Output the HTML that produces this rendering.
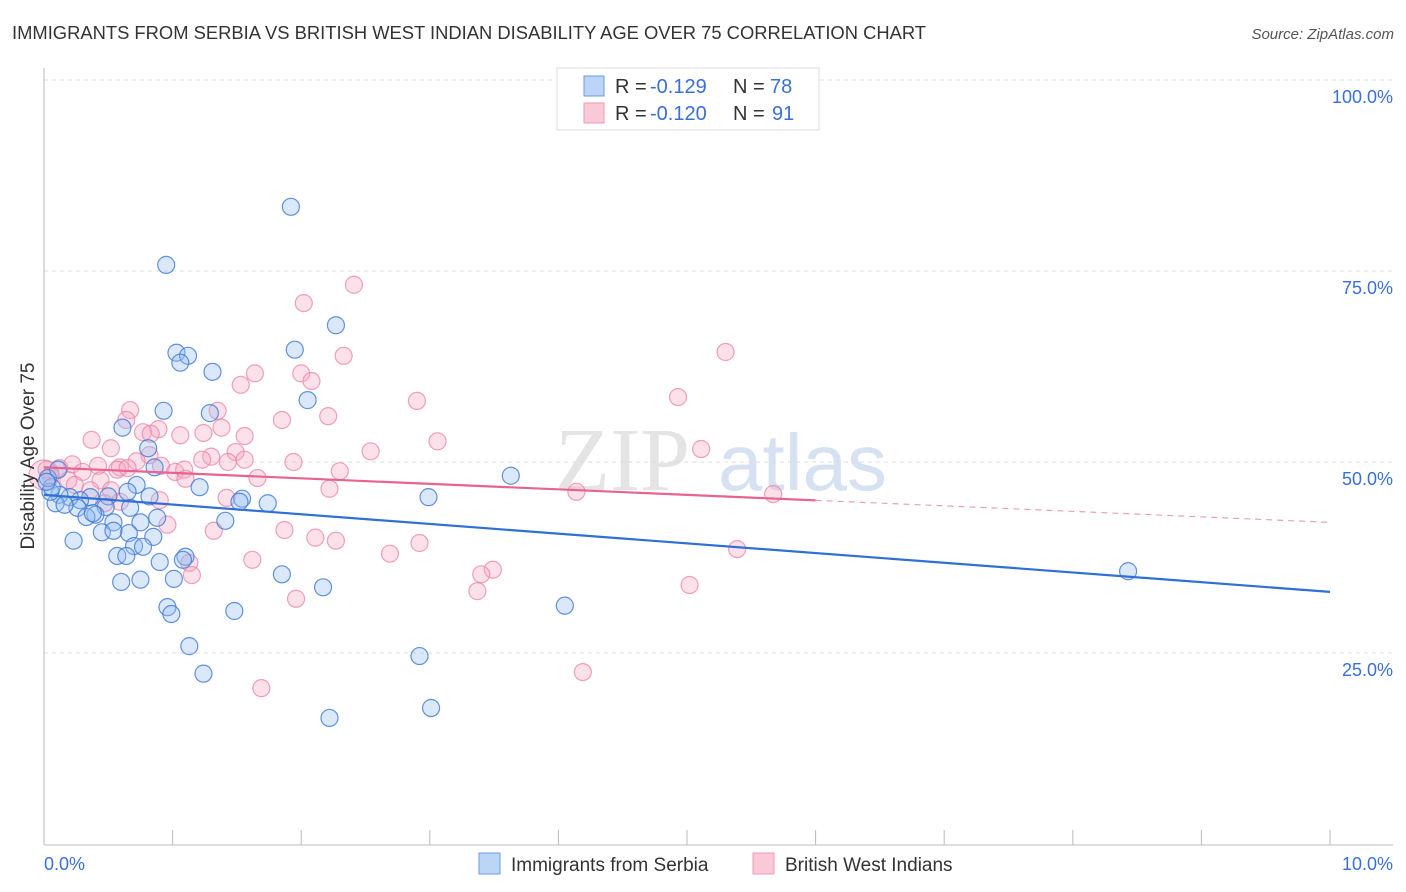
<!DOCTYPE html>
<html><head><meta charset="utf-8">
<style>
body{margin:0;background:#fff;font-family:"Liberation Sans",sans-serif;}
svg{display:block}
</style></head>
<body>
<svg id="chart" width="1406" height="892" viewBox="0 0 1406 892">
<text x="12" y="39" font-size="18" fill="#333" textLength="914" lengthAdjust="spacingAndGlyphs">IMMIGRANTS FROM SERBIA VS BRITISH WEST INDIAN DISABILITY AGE OVER 75 CORRELATION CHART</text>
<text x="1394" y="39" font-size="15" font-style="italic" fill="#555" text-anchor="end">Source: ZipAtlas.com</text>
<g><text x="555" y="490" font-size="90" font-family="Liberation Serif,serif" fill="#e4e4e4">ZIP</text><text x="718" y="490" font-size="80" fill="#d6e2f2">atlas</text></g>
<g id="grid"></g>
<g id="axes"></g>
<g id="marks"></g>
<text transform="translate(34,456) rotate(-90)" font-size="19" fill="#333" text-anchor="middle">Disability Age Over 75</text>
<g>
<rect x="557" y="68" width="262" height="62" fill="#fff" stroke="#ddd"/>
<rect x="584" y="76" width="20" height="20" fill="#bcd4f6" stroke="#6a9be0"/>
<rect x="584" y="103" width="20" height="20" fill="#f9c9d8" stroke="#ee9ab6"/>
<text x="615" y="93" font-size="20" fill="#333">R =</text>
<text x="650" y="93" font-size="20" fill="#3a6fd8">-0.129</text>
<text x="733" y="93" font-size="20" fill="#333">N =</text>
<text x="770" y="93" font-size="20" fill="#3a6fd8">78</text>
<text x="615" y="120" font-size="20" fill="#333">R =</text>
<text x="650" y="120" font-size="20" fill="#3a6fd8">-0.120</text>
<text x="733" y="120" font-size="20" fill="#333">N =</text>
<text x="772" y="120" font-size="20" fill="#3a6fd8">91</text>
</g>
<g>
<rect x="479" y="853" width="21" height="21" fill="#bcd4f6" stroke="#6a9be0"/>
<text x="511" y="871" font-size="19" fill="#333">Immigrants from Serbia</text>
<rect x="753" y="853" width="21" height="21" fill="#f9c9d8" stroke="#ee9ab6"/>
<text x="785" y="871" font-size="19" fill="#333">British West Indians</text>
</g>
</svg>
<script>
const blueX=[1.92,0.95,2.27,1.03,1.12,1.06,1.95,1.31,2.05,0.93,1.29,0.61,0.81,0.86,3.63,2.99,1.54,1.52,1.21,0.72,0.65,0.82,0.50,0.36,0.28,0.20,0.12,0.09,0.05,0.06,0.48,0.67,0.26,0.16,0.40,0.33,0.38,0.54,0.75,0.88,1.41,1.74,0.23,0.45,0.66,0.54,0.85,0.70,0.77,0.57,0.64,1.10,1.08,0.90,1.85,1.01,0.75,0.60,2.17,0.96,0.99,1.48,4.05,8.43,1.13,2.92,1.24,2.22,3.01,0.03,0.11,0.02];
const blueY=[83.4,75.8,67.9,64.3,63.9,63.0,64.7,61.8,58.1,56.7,56.4,54.5,51.8,49.3,48.2,45.4,45.2,44.8,46.7,47.0,46.1,45.5,45.5,45.4,45.0,45.4,45.7,44.6,46.1,46.7,44.1,44.0,44.0,44.4,43.1,42.8,43.3,42.1,42.1,42.7,42.3,44.6,39.7,40.8,40.7,41.0,40.2,39.0,38.9,37.7,37.7,37.6,37.2,36.9,35.3,34.7,34.6,34.3,33.6,31.0,30.1,30.5,31.2,35.7,25.9,24.6,22.3,16.5,17.8,47.9,49.0,47.4];
const pinkX=[2.41,2.02,5.30,2.33,1.64,2.00,2.08,1.53,2.90,4.93,1.35,1.85,0.67,2.21,0.89,0.64,0.77,1.06,1.38,1.24,1.56,3.06,0.37,0.52,0.83,2.54,5.11,1.49,1.30,0.82,0.72,0.59,0.57,0.42,0.22,0.12,0.30,0.44,0.65,0.91,1.02,1.09,1.23,1.43,1.56,1.66,1.94,2.30,1.10,0.52,1.42,0.19,0.05,0.02,0.24,0.36,0.47,0.90,2.22,4.14,5.67,0.96,1.32,1.87,2.11,2.27,2.92,2.69,1.62,1.13,1.15,3.49,3.40,3.37,5.02,1.96,5.39,4.19,1.69,0.59,0.0];
const pinkY=[73.2,70.8,64.4,63.9,61.6,61.6,60.6,60.1,58.0,58.5,56.7,55.5,56.8,56.0,54.3,55.5,53.9,53.5,54.5,53.8,53.4,52.7,52.9,51.8,53.7,51.4,51.7,51.3,50.7,50.9,50.1,49.3,49.0,49.5,49.7,49.2,48.7,47.6,49.2,49.5,48.7,49.0,50.3,50.0,50.3,47.9,50.0,48.8,47.8,46.3,45.3,47.6,48.2,49.0,47.0,46.3,44.6,45.0,46.5,46.1,45.8,41.8,41.0,41.1,40.1,39.7,39.4,38.0,37.2,36.8,35.2,35.9,35.3,33.1,33.9,32.1,38.6,22.5,20.4,44.8,48.3];
const blueTrend=[45.7,33.0];
const pinkTrend=[49.3,42.1];
const pinkSolidEnd=6.0;
const yTicks=[25,50,75,100];
const yTickLabels=["25.0%","50.0%","75.0%","100.0%"];
const xTickLabels=["0.0%","10.0%"];

const NS="http://www.w3.org/2000/svg";
const X=v=>44+v*128.6, Y=v=>844-v*7.64;
function mk(tag,attrs,parent){const e=document.createElementNS(NS,tag);for(const k in attrs)e.setAttribute(k,attrs[k]);parent.appendChild(e);return e;}
const grid=document.getElementById('grid'),axes=document.getElementById('axes'),marks=document.getElementById('marks');
yTicks.forEach((t,i)=>{
  const l=mk('line',{x1:44,x2:1393,y1:Y(t),y2:Y(t),stroke:'#ddd','stroke-dasharray':'4,4'},grid);
  
  
  const tx=mk('text',{x:1393,y:Y(t)+23,'font-size':18,fill:'#3a6fd8','text-anchor':'end'},axes);
  tx.textContent=yTickLabels[i];
  
  
});
const ya=mk('line',{x1:44,x2:44,y1:68,y2:845,stroke:'#bbb'},axes);


const xa=mk('line',{x1:44,x2:1393,y1:845,y2:845,stroke:'#bbb'},axes);


for(let i=1;i<=10;i++){const t=mk('line',{x1:X(i),x2:X(i),y1:830,y2:845,stroke:'#bbb'},axes);
  
  }
const xl0=mk('text',{x:44,y:870,'font-size':18,fill:'#3a6fd8'},axes);xl0.textContent=xTickLabels[0];


const xl1=mk('text',{x:1393,y:870,'font-size':18,fill:'#3a6fd8','text-anchor':'end'},axes);xl1.textContent=xTickLabels[1];



pinkX.forEach((v,i)=>{const c=mk('circle',{cx:X(v),cy:Y(pinkY[i]),r:(i===pinkX.length-1?15:8.5),fill:'rgba(247,170,195,0.35)',stroke:'rgba(236,130,165,0.75)','stroke-width':1.2},marks);
  
  });
blueX.forEach((v,i)=>{const c=mk('circle',{cx:X(v),cy:Y(blueY[i]),r:8.5,fill:'rgba(150,190,240,0.35)',stroke:'rgba(60,120,215,0.8)','stroke-width':1.2},marks);
  
  });
const pAt=x=>pinkTrend[0]+(pinkTrend[1]-pinkTrend[0])*x/10;
const bl=mk('line',{x1:X(0),y1:Y(blueTrend[0]),x2:X(10),y2:Y(blueTrend[1]),stroke:'#2f6fd6','stroke-width':2.2},marks);


const pl=mk('line',{x1:X(0),y1:Y(pAt(0)),x2:X(pinkSolidEnd),y2:Y(pAt(pinkSolidEnd)),stroke:'#e8638f','stroke-width':2.2},marks);


const pd=mk('line',{x1:X(pinkSolidEnd),y1:Y(pAt(pinkSolidEnd)),x2:X(10),y2:Y(pAt(10)),stroke:'#e8a0b8','stroke-width':1.2,'stroke-dasharray':'6,5'},marks);


</script>
</body></html>
